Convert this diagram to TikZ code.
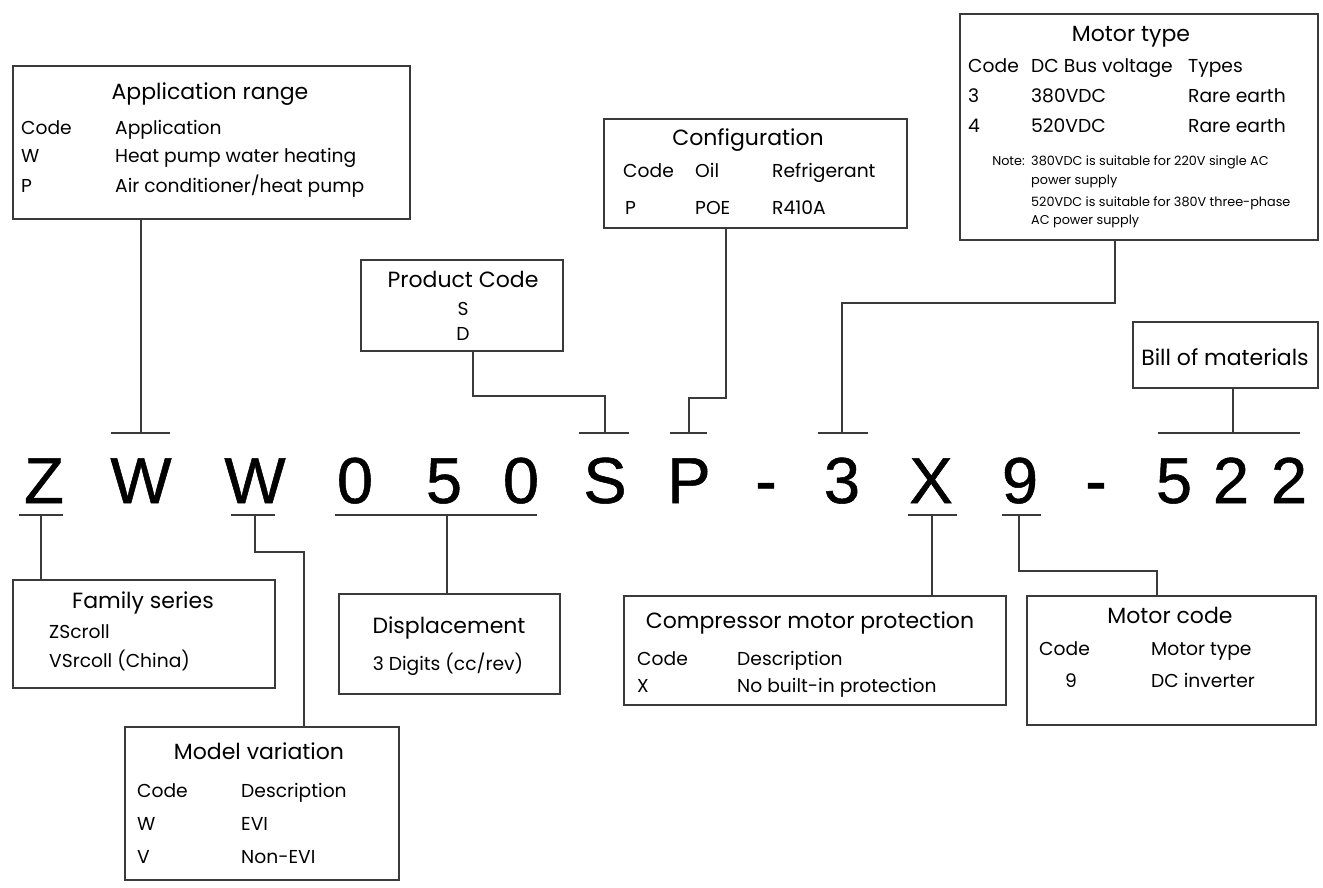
\documentclass[tikz,border=0pt]{standalone}
\usepackage{fontspec}
\setmainfont{Poppins}
\newfontfamily\bigfont[FakeBold=0.8]{Liberation Sans}
\usetikzlibrary{calc}
\definecolor{lc}{HTML}{3A3A3A}
\begin{document}
\begin{tikzpicture}[x=1pt,y=-1pt,
  box/.style={draw=lc,line width=1.3pt,inner sep=0pt,outer sep=0pt,anchor=north west},
  conn/.style={draw=lc,line width=1.2pt},
  ttl/.style={font=\fontsize{22}{26}\selectfont,anchor=base,inner sep=0pt},
  txt/.style={font=\fontsize{18.7}{22}\selectfont,anchor=base west,inner sep=0pt},
  ctxt/.style={font=\fontsize{18.7}{22}\selectfont,anchor=base,inner sep=0pt},
  note/.style={font=\fontsize{12.8}{15}\selectfont,anchor=base west,inner sep=0pt},
  big/.style={font=\bigfont\fontsize{65}{70}\selectfont,anchor=base,inner sep=0pt}]
\useasboundingbox (0,0) rectangle (1323,888);

% ---------- code letters ----------
\node[big] (c1) at (44,503) {Z};
\node[big] (c2) at (141,503) {W};
\node[big] (c3) at (255,503) {W};
\node[big] (c4) at (355,503) {0};
\node[big] (c5) at (444,503) {5};
\node[big] (c6) at (521,503) {0};
\node[big] (c7) at (605,503) {S};
\node[big] (c8) at (689,503) {P};
\node[big] (c9) at (766,503) {-};
\node[big] (c10) at (842,503) {3};
\node[big] (c11) at (931,503) {X};
\node[big] (c12) at (1020,503) {9};
\node[big] (c13) at (1096,503) {-};
\node[big] (c14) at (1174,503) {5};
\node[big] (c15) at (1231,503) {2};
\node[big] (c16) at (1289,503) {2};

% ---------- boxes ----------
\node[box,minimum width=397pt,minimum height=153pt] (app) at (13,66) {};
\node[box,minimum width=202pt,minimum height=91pt] (prod) at (361,260) {};
\node[box,minimum width=303pt,minimum height=109pt] (conf) at (604,119) {};
\node[box,minimum width=358pt,minimum height=226pt] (mtype) at (960,14) {};
\node[box,minimum width=185pt,minimum height=66pt] (bom) at (1133,322) {};
\node[box,minimum width=262pt,minimum height=108pt] (fam) at (13,580) {};
\node[box,minimum width=221pt,minimum height=100pt] (disp) at (339,594) {};
\node[box,minimum width=274pt,minimum height=153pt] (modv) at (125,727) {};
\node[box,minimum width=382pt,minimum height=109pt] (comp) at (624,596) {};
\node[box,minimum width=289pt,minimum height=129pt] (mcode) at (1027,596) {};

% ---------- texts ----------
\node[ttl] (appT) at (210,100) {Application range};
\node[txt] (appA1) at (21,135) {Code};
\node[txt] (appB1) at (115,135) {Application};
\node[txt] (appA2) at (21,163) {W};
\node[txt] (appB2) at (115,163) {Heat pump water heating};
\node[txt] (appA3) at (21,193) {P};
\node[txt] (appB3) at (115,193) {Air conditioner/heat pump};

\node[ttl] (prodT) at (463,287) {Product Code};
\node[ctxt] (prodS) at (463,315) {S};
\node[ctxt] (prodD) at (463,340) {D};

\node[ttl] (confT) at (748,146) {Configuration};
\node[txt] (confA1) at (623,178) {Code};
\node[txt] (confB1) at (695,178) {Oil};
\node[txt] (confC1) at (772,178) {Refrigerant};
\node[txt] (confA2) at (625,214) {P};
\node[txt] (confB2) at (695,214) {POE};
\node[txt] (confC2) at (772,214) {R410A};

\node[ttl] (mtT) at (1131,42) {Motor type};
\node[txt] (mtA1) at (968,73) {Code};
\node[txt] (mtB1) at (1031,73) {DC Bus voltage};
\node[txt] (mtC1) at (1188,73) {Types};
\node[txt] (mtA2) at (968,103) {3};
\node[txt] (mtB2) at (1031,103) {380VDC};
\node[txt] (mtC2) at (1188,103) {Rare earth};
\node[txt] (mtA3) at (968,133) {4};
\node[txt] (mtB3) at (1031,133) {520VDC};
\node[txt] (mtC3) at (1188,133) {Rare earth};
\node[note,anchor=base east] (mtN0) at (1025,166) {Note:};
\node[note] (mtN1) at (1031,166) {380VDC is suitable for 220V single AC};
\node[note] (mtN2) at (1031,184) {power supply};
\node[note] (mtN3) at (1031,206) {520VDC is suitable for 380V three-phase};
\node[note] (mtN4) at (1031,224) {AC power supply};

\node[ttl] (bomT) at (1225,365) {Bill of materials};

\node[ttl] (famT) at (143,608) {Family series};
\node[txt] (famA) at (49,638) {ZScroll};
\node[txt] (famB) at (49,667) {VSrcoll (China)};

\node[ttl] (dispT) at (449,633) {Displacement};
\node[ctxt] (dispA) at (448,670) {3 Digits (cc/rev)};

\node[ttl] (modT) at (259,759) {Model variation};
\node[txt] (modA1) at (137,797) {Code};
\node[txt] (modB1) at (241,797) {Description};
\node[txt] (modA2) at (137,830) {W};
\node[txt] (modB2) at (241,830) {EVI};
\node[txt] (modA3) at (137,863) {V};
\node[txt] (modB3) at (241,863) {Non-EVI};

\node[ttl] (compT) at (810,628) {Compressor motor protection};
\node[txt] (compA1) at (637,665) {Code};
\node[txt] (compB1) at (737,665) {Description};
\node[txt] (compA2) at (637,692) {X};
\node[txt] (compB2) at (737,692) {No built-in protection};

\node[ttl] (mcT) at (1170,623) {Motor code};
\node[txt] (mcA1) at (1039,655) {Code};
\node[txt] (mcB1) at (1151,655) {Motor type};
\node[ctxt] (mcA2) at (1071,687) {9};
\node[txt] (mcB2) at (1151,687) {DC inverter};

% ---------- tick marks ----------
\coordinate (tW1a) at (111,433); \coordinate (tW1b) at (170,433); \coordinate (tW1) at (141,433);
\coordinate (tSa) at (579,433); \coordinate (tSb) at (629,433); \coordinate (tS) at (605,433);
\coordinate (tPa) at (670,433); \coordinate (tPb) at (707,433); \coordinate (tP) at (689,433);
\coordinate (t3a) at (818,433); \coordinate (t3b) at (868,433); \coordinate (t3) at (842,433);
\coordinate (tBa) at (1158,433); \coordinate (tBb) at (1300,433); \coordinate (tB) at (1233,433);
\coordinate (tZa) at (19,515); \coordinate (tZb) at (63,515); \coordinate (tZ) at (41,515);
\coordinate (tW2a) at (231,515); \coordinate (tW2b) at (275,515); \coordinate (tW2) at (255,515);
\coordinate (tDa) at (335,515); \coordinate (tDb) at (537,515); \coordinate (tD) at (447,515);
\coordinate (tXa) at (908,515); \coordinate (tXb) at (957,515); \coordinate (tX) at (932,515);
\coordinate (t9a) at (1002,515); \coordinate (t9b) at (1041,515); \coordinate (t9) at (1019,515);
\foreach \a/\b in {tW1a/tW1b,tSa/tSb,tPa/tPb,t3a/t3b,tBa/tBb,tZa/tZb,tW2a/tW2b,tDa/tDb,tXa/tXb,t9a/t9b}
  \draw[conn] (\a) -- (\b);

% ---------- connectors ----------
\draw[conn] (tW1 |- app.south) -- (tW1);
\coordinate (pr1) at (473,351); \coordinate (pr2) at (473,396);
\draw[conn] (pr1) -- (pr2) -- (pr2 -| tS) -- (tS);
\coordinate (cf1) at (726,228); \coordinate (cf2) at (726,398);
\draw[conn] (cf1) -- (cf2) -- (cf2 -| tP) -- (tP);
\coordinate (mt1) at (1115,240); \coordinate (mt2) at (1115,303);
\draw[conn] (mt1) -- (mt2) -- (mt2 -| t3) -- (t3);
\draw[conn] (tB |- bom.south) -- (tB);
\draw[conn] (tZ) -- (tZ |- fam.north);
\coordinate (wv1) at (255,552); \coordinate (wv2) at (304,552);
\draw[conn] (tW2) -- (wv1) -- (wv2) -- (wv2 |- modv.north);
\draw[conn] (tD) -- (tD |- disp.north);
\draw[conn] (tX) -- (tX |- comp.north);
\coordinate (n1) at (1019,571); \coordinate (n2) at (1157,571);
\draw[conn] (t9) -- (n1) -- (n2) -- (n2 |- mcode.north);
\end{tikzpicture}
\end{document}
